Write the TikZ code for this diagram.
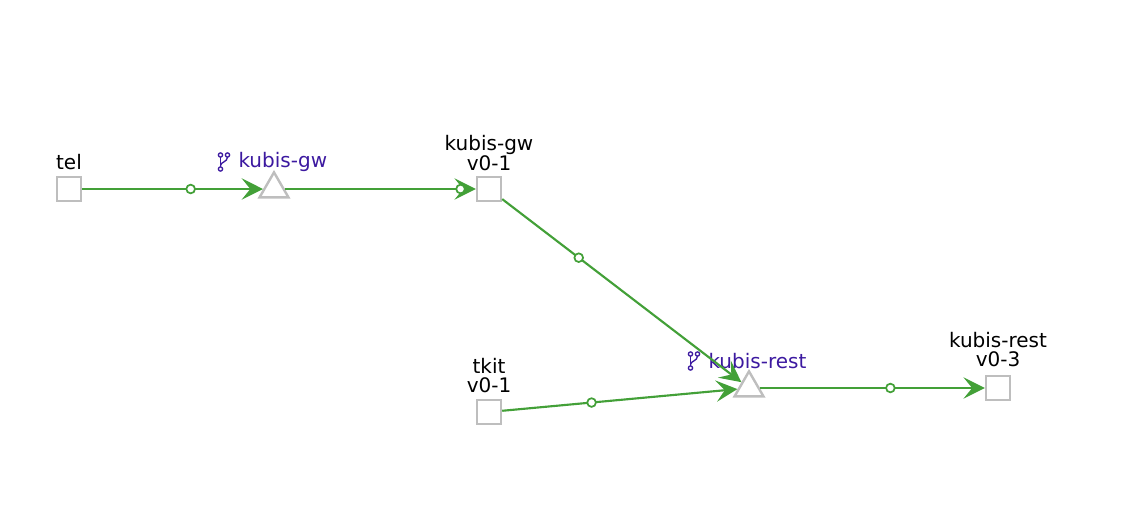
\documentclass[tikz,border=0pt]{standalone}
\usepackage{fontspec}
\setmainfont{DejaVu Sans}
\usetikzlibrary{arrows.meta,shapes.geometric}

\definecolor{flowgreen}{RGB}{67,160,56}
\definecolor{boxgray}{RGB}{190,190,190}
\definecolor{branchpurple}{RGB}{60,25,160}

\tikzset{every picture/.style={line width=0.75pt}}
\tikzset{
  pkg/.style={draw=boxgray, line width=1.8pt, fill=white, minimum size=18pt, inner sep=0pt},
  merge/.style={draw=boxgray, line width=1.8pt, fill=white, regular polygon, regular polygon sides=3, minimum size=25pt, inner sep=0pt},
  flow/.style={draw=flowgreen, line width=1.6pt, -{Stealth[length=16pt,width=16pt,inset=6.5pt]}},
  tap/.style={circle, draw=flowgreen, fill=white, line width=1.3pt, minimum size=6.5pt, inner sep=0pt},
  pkgname/.style={font=\fontsize{15}{14.25}\selectfont, align=center, inner sep=0.75pt},
  branchname/.style={font=\fontsize{15}{14.25}\selectfont, text=branchpurple, inner sep=0.75pt, anchor=west},
}

% small git branch sign in front of a branch name
\newcommand{\branchicon}[1]{%
  \begin{scope}[shift={#1}, draw=branchpurple, line width=1pt]
    \draw (-3.5,-7) circle (2.1) (3.5,-7) circle (2.1) (-3.5,7) circle (2.1);
    \draw (-3.5,-4.9) -- (-3.5,4.9);
    \draw (3.5,-4.9) .. controls (3.5,0) and (-3.5,0) .. (-3.5,3.5);
  \end{scope}}

\begin{document}
\begin{tikzpicture}[x=0.75pt,y=0.75pt,yscale=-1,xscale=1]
\useasboundingbox (0,0) rectangle (1144,511);

% Packages
\node [pkg] (tel) at (69,189) {};
\node [pkg] (gw) at (489,189) {};
\node [pkg] (tkit) at (489,412) {};
\node [pkg] (rest) at (998,388) {};

% Merge points
\node [merge] (gwmerge) at (274,189) {};
\node [merge] (restmerge) at (749,388) {};

% Package names
\node [pkgname] (tel-name) at (69,162) {tel};
\node [pkgname] (gw-name) at (489,153) {kubis-gw\\v0-1};
\node [pkgname] (tkit-name) at (489,376) {tkit\\v0-1};
\node [pkgname] (rest-name) at (998,350) {kubis-rest\\v0-3};

% Branch names
\branchicon{(224,162)}
\node [branchname] (gwbranch) at (237,162) {kubis-gw};
\branchicon{(694,361)}
\node [branchname] (restbranch) at (707,361) {kubis-rest};

% Flows
\draw [flow] (tel) -- node [tap, pos=0.6] (tap1) {} (gwmerge);
\draw [flow] (gwmerge) -- node [tap, pos=0.92] (tap2) {} (gw);
\draw [flow] (gw) -- node [tap, pos=0.32] (tap3) {} (restmerge);
\draw [flow] (tkit) -- node [tap, pos=0.38] (tap4) {} (restmerge);
\draw [flow] (restmerge) -- node [tap, pos=0.58] (tap5) {} (rest);

\end{tikzpicture}
\end{document}
